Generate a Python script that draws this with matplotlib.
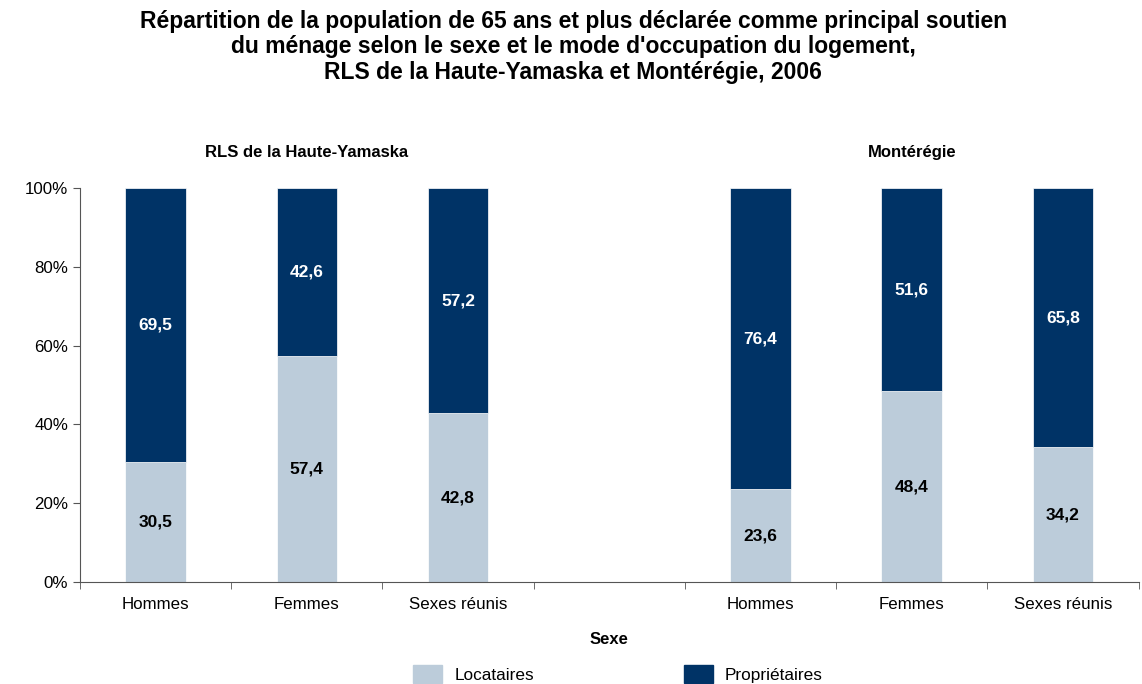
import numpy as np
import matplotlib
matplotlib.use('Agg')
import matplotlib.pyplot as plt
import matplotlib.patches as mpatches
from matplotlib.ticker import PercentFormatter

plt.rcParams['font.family'] = ['Liberation Sans', 'DejaVu Sans']

# ── Data ──────────────────────────────────────────────────────────────────────
categories = ['Hommes', 'Femmes', 'Sexes réunis', '', 'Hommes', 'Femmes', 'Sexes réunis']
locataires = [30.5, 57.4, 42.8, np.nan, 23.6, 48.4, 34.2]
proprietaires = [69.5, 42.6, 57.2, np.nan, 76.4, 51.6, 65.8]
groups = ['RLS de la Haute-Yamaska', 'Montérégie']
group_slots = [1, 5]

LIGHT = '#BCCCDA'
DARK = '#003366'

fig = plt.figure(figsize=(11.42, 6.84), dpi=100)
ax = fig.add_axes([0.070, 0.149, 0.927, 0.576])

x = np.arange(len(categories))
loc = np.array(locataires)
pro = np.array(proprietaires)
ax.bar(x, loc / 100, width=0.4, color=LIGHT, edgecolor='white', linewidth=0.5)
ax.bar(x, pro / 100, width=0.4, bottom=loc / 100, color=DARK,
       edgecolor='white', linewidth=0.5)

for xi, l, p in zip(x, loc, pro):
    if np.isnan(l):
        continue
    ax.text(xi, l / 200, f'{l:.1f}'.replace('.', ','), ha='center', va='center',
            fontsize=12.5, fontweight='bold', color='black')
    ax.text(xi, (l + p / 2) / 100, f'{p:.1f}'.replace('.', ','), ha='center',
            va='center', fontsize=12.5, fontweight='bold', color='white')

ax.set_xlim(-0.5, len(categories) - 0.5)
ax.set_ylim(0, 1)
ax.set_yticks(np.arange(0, 1.01, 0.2))
ax.yaxis.set_major_formatter(PercentFormatter(1.0, decimals=0))
ax.set_xticks(x)
ax.set_xticklabels(categories)
ax.set_xticks(np.arange(-0.5, len(categories)), minor=True)
ax.tick_params(axis='x', which='major', length=0, pad=11, labelsize=12.2)
ax.tick_params(axis='x', which='minor', length=5, direction='out', color='#555555')
ax.tick_params(axis='y', length=5, direction='out', labelsize=12.2, color='#555555')
for s in ['top', 'right']:
    ax.spines[s].set_visible(False)
for s in ['left', 'bottom']:
    ax.spines[s].set_color('#555555')

for g, slot in zip(groups, group_slots):
    ax.text(slot, 1.09, g, ha='center', va='center', fontsize=12,
            fontweight='bold', transform=ax.get_xaxis_transform())

ax.set_xlabel('Sexe', fontsize=12, fontweight='bold', labelpad=14)

fig.suptitle("Répartition de la population de 65 ans et plus déclarée comme principal soutien\n"
             "du ménage selon le sexe et le mode d'occupation du logement,\n"
             "RLS de la Haute-Yamaska et Montérégie, 2006",
             fontsize=16.5, fontweight='bold', x=0.502, y=0.985, linespacing=1.12)

handles = [mpatches.Patch(color=LIGHT, label='Locataires'),
           mpatches.Patch(color=DARK, label='Propriétaires')]
fig.legend(handles=handles, loc='center', ncol=2, frameon=False,
           fontsize=12.4, bbox_to_anchor=(0.541, 0.0146), columnspacing=8.7,
           handlelength=1.7, handleheight=1.3, handletextpad=0.7,
           borderaxespad=0, borderpad=0)

fig.savefig('out.png', dpi=100)
